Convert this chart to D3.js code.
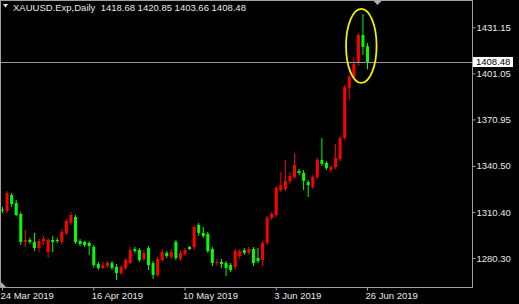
<!DOCTYPE html>
<html>
<head>
<meta charset="utf-8">
<script src="https://cdn.jsdelivr.net/npm/d3@7/dist/d3.min.js"></script>
<style>
html,body{margin:0;padding:0;background:#000;}
svg{display:block;}
text{font-family:"Liberation Sans",Arial,sans-serif;font-size:9.5px;}
</style>
</head>
<body>
<svg id="chart" width="519" height="304"></svg>
<script>
// ---- data ----
const dates = [
"2019-03-24","2019-03-25","2019-03-26","2019-03-27","2019-03-28","2019-03-29",
"2019-03-31","2019-04-01","2019-04-02","2019-04-03","2019-04-04","2019-04-05",
"2019-04-07","2019-04-08","2019-04-09","2019-04-10","2019-04-11","2019-04-12",
"2019-04-14","2019-04-15","2019-04-16","2019-04-17","2019-04-18",
"2019-04-21","2019-04-22","2019-04-23","2019-04-24","2019-04-25","2019-04-26",
"2019-04-28","2019-04-29","2019-04-30","2019-05-01","2019-05-02","2019-05-03",
"2019-05-05","2019-05-06","2019-05-07","2019-05-08","2019-05-09","2019-05-10",
"2019-05-12","2019-05-13","2019-05-14","2019-05-15","2019-05-16","2019-05-17",
"2019-05-19","2019-05-20","2019-05-21","2019-05-22","2019-05-23","2019-05-24",
"2019-05-26","2019-05-27","2019-05-28","2019-05-29","2019-05-30","2019-05-31",
"2019-06-02","2019-06-03","2019-06-04","2019-06-05","2019-06-06","2019-06-07",
"2019-06-09","2019-06-10","2019-06-11","2019-06-12","2019-06-13","2019-06-14",
"2019-06-16","2019-06-17","2019-06-18","2019-06-19","2019-06-20","2019-06-21",
"2019-06-23","2019-06-24","2019-06-25","2019-06-26"];

const open = [1312.0,1311.0,1321.5,1316.3,1309.1,1290.8,1292.1,1290.8,1286.8,1291.4,
1284.2,1292.1,1292.1,1290.8,1296.7,1303.2,1307.1,1291.4,1290.8,1290.1,
1287.5,1276.4,1273.8,1275.1,1277.0,1274.4,1270.5,1273.8,1277.0,1286.2,
1285.5,1279.6,1286.8,1277.0,1269.2,1279.0,1283.6,1281.0,1290.8,1279.6,
1282.9,1287.5,1287.5,1301.9,1296.7,1296.0,1286.2,1277.0,1277.7,1277.0,
1275.7,1274.4,1281.6,1285.5,1283.6,1286.2,1280.3,1279.0,1290.1,1306.5,
1308.4,1324.8,1325.4,1330.7,1333.3,1337.2,1335.9,1330.0,1326.7,1333.3,
1344.4,1342.4,1337.9,1339.8,1345.0,1358.8,1391.5,1398.7,1407.8,1426.1,1418.68];

const high = [1313.7,1324.1,1322.8,1318.2,1310.4,1298.6,1293.4,1296.7,1292.7,1294.7,
1293.4,1294.7,1293.4,1299.3,1305.8,1310.4,1308.4,1292.7,1291.4,1291.4,
1288.8,1277.7,1277.7,1278.3,1278.3,1276.4,1275.7,1280.3,1287.5,1287.5,
1286.8,1285.5,1288.1,1278.3,1281.0,1286.2,1284.9,1286.2,1292.1,1285.5,
1286.8,1288.1,1301.9,1303.2,1300.6,1297.3,1287.5,1279.6,1279.6,1278.3,
1277.0,1286.2,1286.2,1286.8,1287.5,1287.5,1286.8,1291.4,1307.8,1310.4,
1327.4,1336.5,1344.4,1336.5,1349.0,1338.5,1337.9,1331.3,1334.6,1345.7,
1358.8,1343.7,1341.1,1354.9,1360.1,1393.4,1400.0,1411.8,1427.5,1439.9,1420.85];

const low = [1309.7,1309.7,1313.7,1307.8,1288.8,1287.5,1289.5,1284.9,1284.2,1288.8,
1280.3,1284.2,1290.1,1289.5,1295.3,1301.9,1289.5,1288.1,1287.5,1282.3,
1273.8,1272.5,1273.1,1273.8,1272.5,1265.9,1269.2,1272.5,1276.4,1283.6,
1277.7,1278.3,1272.5,1266.6,1267.9,1277.7,1280.3,1279.6,1279.0,1278.3,
1281.6,1285.5,1285.5,1294.7,1293.4,1283.6,1275.1,1275.1,1273.8,1268.5,
1271.1,1272.5,1279.6,1282.3,1282.3,1275.1,1277.0,1275.1,1288.8,1305.2,
1307.1,1323.5,1324.1,1328.7,1332.0,1334.6,1324.8,1320.2,1325.4,1332.0,
1340.5,1337.9,1336.5,1338.5,1343.7,1357.5,1383.6,1397.4,1405.9,1413.1,1403.66];

const close = [1311.4,1322.8,1315.6,1308.4,1290.8,1292.1,1290.8,1286.8,1291.4,1292.7,
1292.1,1290.8,1291.4,1297.3,1304.5,1308.4,1290.8,1289.5,1288.8,1288.1,
1275.7,1273.8,1275.7,1277.0,1273.8,1270.5,1274.4,1279.0,1285.5,1284.9,
1279.0,1283.6,1275.7,1269.2,1279.6,1284.2,1281.6,1284.2,1280.3,1283.6,
1285.5,1286.2,1300.6,1296.7,1294.7,1284.9,1277.0,1277.7,1276.4,1273.8,
1272.5,1284.9,1284.9,1283.6,1286.2,1277.0,1278.3,1290.1,1306.5,1309.1,
1326.1,1328.0,1330.7,1333.9,1341.1,1335.9,1330.7,1328.0,1333.3,1344.4,
1341.8,1339.2,1339.8,1345.7,1358.8,1392.1,1398.7,1407.2,1426.1,1418.3,1408.48];

const priceTicks = [1280.30, 1310.40, 1340.50, 1370.95, 1401.05, 1431.15];
const dateTicks = ["2019-03-24","2019-04-16","2019-05-10","2019-06-03","2019-06-26"];
const symbol = "XAUUSD.Exp,Daily";
const lastPrice = 1408.48;
// annotation ellipse (bar index range, price range)
const markIdx = [75.4, 82.1];
const markPrice = [1394.8, 1443.2];

// ---- layout ----
const W = 519, H = 304;
const plotRight = 472.5, plotBottom = 287.5, plotTop = 0.5, plotLeft = 0.5;
const svg = d3.select("#chart");
svg.append("rect").attr("width", W).attr("height", H).attr("fill", "#000");

const parse = d3.timeParse("%Y-%m-%d");
const fmt = d3.timeFormat("%-d %b %Y");

const x = d3.scaleLinear().domain([0, dates.length - 1]).range([2, 367]);
const y = d3.scaleLinear().domain([1280.30, 1431.15]).range([258, 27.3]);

const bars = dates.map((d, i) => ({d, i, o: open[i], h: high[i], l: low[i], c: close[i]}));
const UP = "#ff0000", DN = "#00ff00";

const g = svg.append("g");
// wicks
g.selectAll("line.w").data(bars).join("line")
  .attr("x1", b => x(b.i) + 0.5).attr("x2", b => x(b.i) + 0.5)
  .attr("y1", b => y(b.h)).attr("y2", b => y(b.l))
  .attr("stroke", b => b.c >= b.o ? UP : DN).attr("stroke-width", 1);
// bodies
g.selectAll("rect.b").data(bars).join("rect")
  .attr("x", b => x(b.i) - 1)
  .attr("width", 3)
  .attr("y", b => y(Math.max(b.o, b.c)))
  .attr("height", b => Math.max(1, Math.abs(y(b.o) - y(b.c))))
  .attr("fill", b => b.c >= b.o ? UP : DN);

// current price line
svg.append("line").attr("x1", 0).attr("x2", plotRight)
  .attr("y1", Math.round(y(lastPrice)) + 0.5).attr("y2", Math.round(y(lastPrice)) + 0.5)
  .attr("stroke", "#9a9a9a").attr("stroke-width", 1);

// frame
svg.append("rect").attr("x", plotLeft).attr("y", plotTop)
  .attr("width", plotRight - plotLeft).attr("height", plotBottom - plotTop)
  .attr("fill", "none").attr("stroke", "#a0a0a0").attr("stroke-width", 1);

// right axis
const yAxis = d3.axisRight(y).tickValues(priceTicks).tickSize(3).tickPadding(1)
  .tickFormat(d3.format(".2f"));
const ya = svg.append("g").attr("transform", `translate(${plotRight},0)`).call(yAxis);
ya.select(".domain").remove();
ya.selectAll(".tick line").attr("stroke", "#a0a0a0");
ya.selectAll(".tick text").attr("fill", "#e8e8e8").style("font-size", "9.5px")
  .style("font-family", '"Liberation Sans",Arial,sans-serif');

// bottom axis
const xAxis = d3.axisBottom(x)
  .tickValues(dateTicks.map(d => dates.indexOf(d)))
  .tickSize(3).tickPadding(2)
  .tickFormat(i => fmt(parse(dates[i])));
const xa = svg.append("g").attr("transform", `translate(0,${plotBottom})`).call(xAxis);
xa.select(".domain").remove();
xa.selectAll(".tick line").attr("stroke", "#a0a0a0");
xa.selectAll(".tick text").attr("fill", "#e8e8e8").attr("text-anchor", "start")
  .attr("dx", -2).style("font-size", "9.5px")
  .style("font-family", '"Liberation Sans",Arial,sans-serif');

// last price label
const ly = y(lastPrice);
svg.append("rect").attr("x", 473).attr("y", ly - 5).attr("width", 40).attr("height", 10)
  .attr("fill", "#fff");
svg.append("text").attr("x", 476).attr("y", ly + 3.4).attr("fill", "#000")
  .text(d3.format(".2f")(lastPrice));

// header
svg.append("path").attr("d", "M3,4 L8,4 L5.5,7.5 Z").attr("fill", "#e8e8e8");
svg.append("text").attr("x", 13).attr("y", 11).attr("fill", "#e8e8e8")
  .attr("xml:space", "preserve")
  .text(`${symbol}  ${open[open.length-1].toFixed(2)} ${high[high.length-1].toFixed(2)} ${low[low.length-1].toFixed(2)} ${close[close.length-1].toFixed(2)}`);

// chart shift marker (top) and bottom-left marker
svg.append("path").attr("d", "M373,0.5 L382,0.5 L377.5,5 Z").attr("fill", "#a8b0c0");
svg.append("path").attr("d", "M1,282 L1,287 L6,287 Z").attr("fill", "#a8b0c0");

// annotation ellipse
const ex0 = x(markIdx[0]), ex1 = x(markIdx[1]);
const ey0 = y(markPrice[1]), ey1 = y(markPrice[0]);
svg.append("ellipse")
  .attr("cx", (ex0 + ex1) / 2).attr("cy", (ey0 + ey1) / 2)
  .attr("rx", (ex1 - ex0) / 2).attr("ry", (ey1 - ey0) / 2)
  .attr("fill", "none").attr("stroke", "#f0f000").attr("stroke-width", 1.8);
</script>
</body>
</html>
